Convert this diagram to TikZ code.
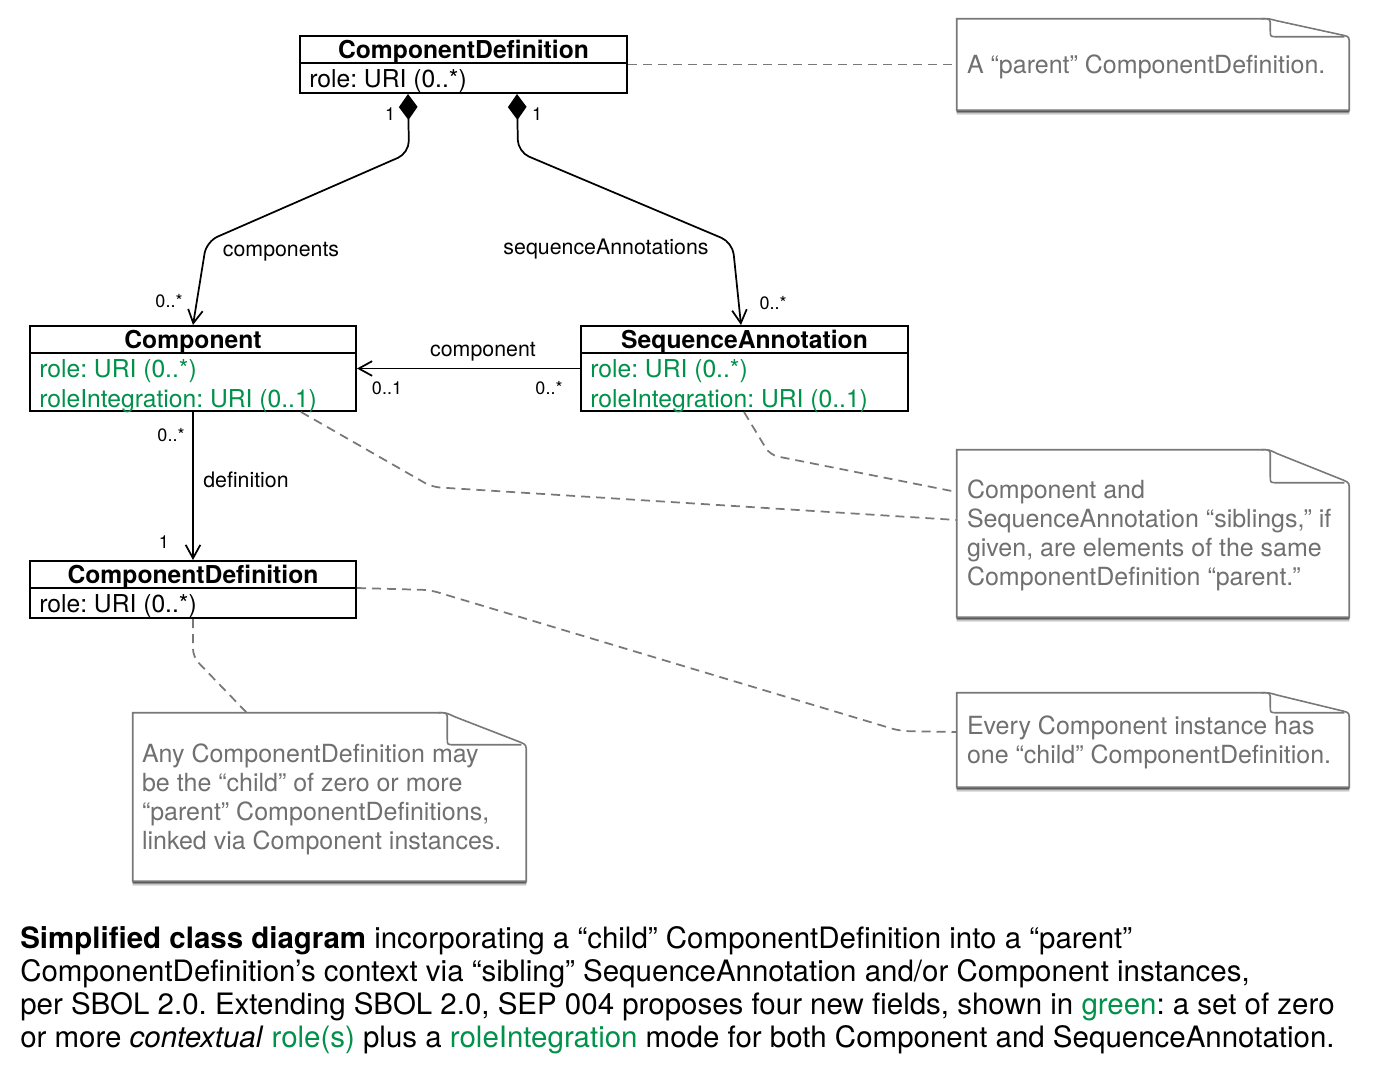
\documentclass[tikz,border=0pt]{standalone}
\usepackage{fontspec}
\setmainfont{TeX Gyre Heros}
\usetikzlibrary{arrows.meta,calc,shadows}
\definecolor{sbgreen}{RGB}{0,145,75}
\definecolor{notegray}{RGB}{112,112,112}
\definecolor{lineg}{RGB}{120,120,120}
\pgfdeclarelayer{background}
\pgfsetlayers{background,main}
\newcommand{\drawnote}[2]{%
  \filldraw[noteline,
      drop shadow={shadow xshift=0pt, shadow yshift=-3.2pt, opacity=0.18, fill=black},
      drop shadow={shadow xshift=0pt, shadow yshift=-2.2pt, opacity=0.3, fill=black},
      drop shadow={shadow xshift=0pt, shadow yshift=-1.2pt, opacity=0.4, fill=black}]
    (#1.south west) -- (#1.north west) -- ($(#1.north east)+(-88,0)$)
    .. controls ($(#1.north east)+(-80,0)$) .. ($(#1.north east)+(-72,{0.12*#2})$)
    -- ($(#1.north east)+(-6,{0.92*#2})$)
    .. controls ($(#1.north east)+(0,#2)$) .. ($(#1.north east)+(0,{#2+8})$)
    -- (#1.south east) -- cycle;
  \draw[noteline]
    ($(#1.north east)+(-88,0)$) .. controls ($(#1.north east)+(-79,0)$) .. ($(#1.north east)+(-79,7)$)
    -- ($(#1.north east)+(-79,{#2-6})$)
    .. controls ($(#1.north east)+(-79,#2)$) .. ($(#1.north east)+(-72,#2)$)
    -- ($(#1.north east)+(-5,#2)$);
}
\begin{document}
\frenchspacing
\begin{tikzpicture}[x=0.75pt,y=-0.75pt,
  umlbox/.style={draw=black, line width=1.5pt, inner sep=0pt},
  ttl/.style={font=\fontsize{18.5pt}{22pt}\selectfont\bfseries, inner sep=0pt},
  attr/.style={font=\fontsize{18.5pt}{22pt}\selectfont, inner sep=0pt, anchor=west},
  gattr/.style={attr, text=sbgreen},
  lbl/.style={font=\fontsize{16pt}{19pt}\selectfont, inner sep=0pt},
  mult/.style={font=\fontsize{13.5pt}{16pt}\selectfont, inner sep=0pt},
  assoc/.style={draw=black, line width=1.3pt},
  dashline/.style={draw=lineg, line width=1.3pt, dash pattern=on 6.75pt off 4.5pt, rounded corners=6pt},
  notebox/.style={draw=none, inner sep=0pt},
  notetext/.style={font=\fontsize{18.75pt}{21.75pt}\selectfont, text=notegray, align=left, anchor=west, inner sep=0pt},
  noteline/.style={draw=lineg, line width=1.2pt, fill=white},
  opentip/.tip={Straight Barb[length=10pt,width=11pt,line width=1.3pt]},
  dia/.tip={Diamond[length=19.5pt,width=14pt]}
]
\useasboundingbox (0,0) rectangle (1377,1073);
\begin{pgfonlayer}{background}
\fill[white] (0,0) rectangle (1377,1073);
\end{pgfonlayer}

% UML boxes
\node[umlbox, minimum width=245.25pt, minimum height=42.75pt] (cdtop) at (463.5,64.5) {};
\draw[line width=1.5pt] ($(cdtop.north west)+(0,28)$) -- ($(cdtop.north east)+(0,28)$);
\node[ttl] (cdtopT) at ($(cdtop.north)+(0,17)$) {ComponentDefinition};
\node[attr] (cdtopA) at ($(cdtop.north west)+(10,46)$) {role: URI (0..*)};

\node[umlbox, minimum width=244.5pt, minimum height=63.75pt] (comp) at (193,368.5) {};
\draw[line width=1.5pt] ($(comp.north west)+(0,28)$) -- ($(comp.north east)+(0,28)$);
\node[ttl] (compT) at ($(comp.north)+(0,17)$) {Component};
\node[gattr] (compA1) at ($(comp.north west)+(10,46)$) {role: URI (0..*)};
\node[gattr] (compA2) at ($(comp.north west)+(10,76)$) {roleIntegration: URI (0..1)};

\node[umlbox, minimum width=245.25pt, minimum height=63.75pt] (sa) at (744.5,368.5) {};
\draw[line width=1.5pt] ($(sa.north west)+(0,28)$) -- ($(sa.north east)+(0,28)$);
\node[ttl] (saT) at ($(sa.north)+(0,17)$) {SequenceAnnotation};
\node[gattr] (saA1) at ($(sa.north west)+(10,46)$) {role: URI (0..*)};
\node[gattr] (saA2) at ($(sa.north west)+(10,76)$) {roleIntegration: URI (0..1)};

\node[umlbox, minimum width=244.5pt, minimum height=42.75pt] (cdbot) at (193,589.5) {};
\draw[line width=1.5pt] ($(cdbot.north west)+(0,28)$) -- ($(cdbot.north east)+(0,28)$);
\node[ttl] (cdbotT) at ($(cdbot.north)+(0,17)$) {ComponentDefinition};
\node[attr] (cdbotA) at ($(cdbot.north west)+(10,46)$) {role: URI (0..*)};

% notes
\node[notebox, minimum width=294pt, minimum height=68.25pt] (note1) at (1153,64.5) {};
\node[notebox, minimum width=294pt, minimum height=125.25pt] (note2) at (1153,533.5) {};
\node[notebox, minimum width=294pt, minimum height=70.5pt] (note3) at (1153,740) {};
\node[notebox, minimum width=294.75pt, minimum height=126pt] (note4) at (329.5,797) {};
\begin{pgfonlayer}{background}
\drawnote{note1}{18}
\drawnote{note2}{33}
\drawnote{note3}{20}
\drawnote{note4}{32}
\end{pgfonlayer}
\node[notetext] (t1) at ($(note1.west)+(10,2)$) {A “parent” ComponentDefinition.};
\node[notetext] (t2) at ($(note2.west)+(10,2)$) {Component and\\SequenceAnnotation “siblings,” if\\given, are elements of the same\\ComponentDefinition “parent.”};
\node[notetext] (t3) at ($(note3.west)+(10,2)$) {Every Component instance has\\one “child” ComponentDefinition.};
\node[notetext] (t4) at ($(note4.west)+(9,2)$) {Any ComponentDefinition may\\be the “child” of zero or more\\“parent” ComponentDefinitions,\\linked via Component instances.};

% associations
\draw[assoc, rounded corners=9pt, dia-opentip] ($(cdtop.south west)+(109,0)$) -- (409,153) -- (206.5,241.5) -- (comp.north);
\draw[assoc, rounded corners=9pt, dia-opentip] ($(cdtop.south west)+(218,0)$) -- (518,152) -- (732.5,242.5) -- ($(sa.north)+(-3.5,0)$);
\draw[assoc, -opentip] (sa.west) -- (comp.east);
\draw[assoc, -opentip] (comp.south) -- (cdbot.north);

\node[mult] (m1) at (390,114) {1};
\node[mult] (m2) at (537,114) {1};
\node[lbl] (lcomps) at (281,252) {components};
\node[mult] (m3) at (169,301) {0..*};
\node[lbl] (lsa) at (606,249) {sequenceAnnotations};
\node[mult] (m4) at (773,303) {0..*};
\node[lbl] (lcomp) at (483,352) {component};
\node[mult] (m5) at (387,388) {0..1};
\node[mult] (m6) at (549,388) {0..*};
\node[mult] (m7) at (171,435) {0..*};
\node[lbl] (ldef) at (246,480) {definition};
\node[mult] (m8) at (164,542) {1};

% dashed note connectors
\draw[dashline] (cdtop.east) -- (note1.west);
\draw[dashline] ($(comp.south west)+(272,0)$) -- (432,487) -- ($(note2.west)+(0,-13.5)$);
\draw[dashline] ($(sa.south west)+(164,0)$) -- (770,455) -- ($(note2.west)+(0,-41.5)$);
\draw[dashline] ($(cdbot.north east)+(0,28)$) -- (430,590) -- (900,731) -- ($(note3.west)+(0,-8)$);
\draw[dashline] (cdbot.south) -- (193,657) -- ($(note4.north west)+(114,0)$);

% caption
\node[anchor=north west, inner sep=0pt, align=left, font=\fontsize{22.1pt}{24.9pt}\selectfont] (caption) at (20,926)
{\textbf{Simplified class diagram} incorporating a “child” ComponentDefinition into a “parent”\\
ComponentDefinition’s context via “sibling” SequenceAnnotation and/or Component instances,\\
per SBOL 2.0. Extending SBOL 2.0, SEP 004 proposes four new fields, shown in \textcolor{sbgreen}{green}: a set of zero\\
or more \textit{contextual} \textcolor{sbgreen}{role(s)} plus a \textcolor{sbgreen}{roleIntegration} mode for both Component and SequenceAnnotation.};
\end{tikzpicture}
\end{document}
